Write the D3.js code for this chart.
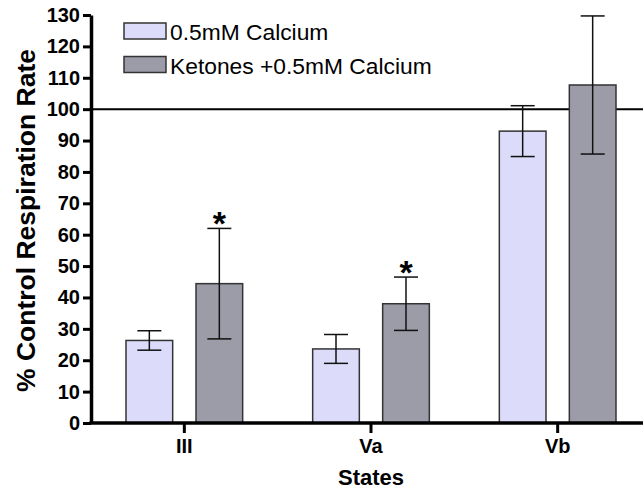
<!DOCTYPE html>
<html>
<head>
<meta charset="utf-8">
<script src="https://cdn.jsdelivr.net/npm/d3@7"></script>
<style>
  body { margin: 0; background: #fff; }
  text { font-family: "Liberation Sans", Arial, sans-serif; }
</style>
</head>
<body>
<div id="chart"></div>
<script>
var WIDTH = 643;
var HEIGHT = 493;

// data
var states = ["III", "Va", "Vb"];
var series = ["0.5mM Calcium", "Ketones +0.5mM Calcium"];
var calciumMean = [26.3, 23.6, 93.0];
var calciumErr = [3.1, 4.6, 8.1];
var ketoneMean = [44.4, 38.0, 107.7];
var ketoneErr = [17.6, 8.5, 22.0];
var ketoneStar = [true, true, false];
var yTicks = [0, 10, 20, 30, 40, 50, 60, 70, 80, 90, 100, 110, 120, 130];
var refValue = 100;

var colors = ["#dcdcfa", "#9c9ba8"];

var margin = { top: 15, right: -8, bottom: 70, left: 91 };

var svg = d3.select("#chart").append("svg")
  .attr("width", WIDTH)
  .attr("height", HEIGHT);

var x0 = d3.scaleBand()
  .domain(states)
  .range([margin.left, WIDTH - margin.right])
  .paddingInner(0)
  .paddingOuter(0);

var step = x0.bandwidth();
var x1 = d3.scaleBand()
  .domain(series)
  .range([step * 0.1875, step * 0.8125])
  .paddingInner(1 / 3);

var y = d3.scaleLinear()
  .domain([0, 130])
  .range([HEIGHT - margin.bottom, margin.top]);

var rows = states.map(function(s, i) {
  return [
    { state: s, key: series[0], mean: calciumMean[i], err: calciumErr[i], star: false, c: 0 },
    { state: s, key: series[1], mean: ketoneMean[i], err: ketoneErr[i], star: ketoneStar[i], c: 1 }
  ];
});
var bars = d3.merge(rows);

// reference line at 100%
svg.append("line")
  .attr("x1", margin.left)
  .attr("x2", WIDTH)
  .attr("y1", y(refValue))
  .attr("y2", y(refValue))
  .attr("stroke", "#000")
  .attr("stroke-width", 2);

var bar_g = svg.append("g");
bar_g.selectAll("rect")
  .data(bars)
  .enter()
  .append("rect")
  .attr("x", d => x0(d.state) + x1(d.key))
  .attr("y", d => y(d.mean))
  .attr("width", x1.bandwidth())
  .attr("height", d => y(0) - y(d.mean))
  .attr("fill", d => colors[d.c])
  .attr("stroke", "#333")
  .attr("stroke-width", 1.5);

// error bars
var err_g = svg.append("g").attr("stroke", "#111").attr("stroke-width", 1.5);
var capW = 12;
bars.forEach(function(d) {
  var cx = x0(d.state) + x1(d.key) + x1.bandwidth() / 2;
  err_g.append("line")
    .attr("x1", cx).attr("x2", cx)
    .attr("y1", y(d.mean + d.err)).attr("y2", y(d.mean - d.err));
  err_g.append("line")
    .attr("x1", cx - capW).attr("x2", cx + capW)
    .attr("y1", y(d.mean + d.err)).attr("y2", y(d.mean + d.err));
  err_g.append("line")
    .attr("x1", cx - capW).attr("x2", cx + capW)
    .attr("y1", y(d.mean - d.err)).attr("y2", y(d.mean - d.err));
});

// significance stars
svg.append("g").selectAll("text")
  .data(bars.filter(d => d.star))
  .enter()
  .append("text")
  .attr("x", d => x0(d.state) + x1(d.key) + x1.bandwidth() / 2)
  .attr("y", d => y(d.mean + d.err) + 7)
  .attr("text-anchor", "middle")
  .style("font-size", "34px")
  .style("font-weight", "bold")
  .text("*");

// axes
var yAxis = svg.append("g")
  .attr("transform", "translate(" + margin.left + ",0)")
  .call(d3.axisLeft(y).tickValues(yTicks).tickSize(8).tickSizeOuter(0).tickPadding(3));

var xAxis = svg.append("g")
  .attr("transform", "translate(0," + y(0) + ")")
  .call(d3.axisBottom(x0).tickSize(10).tickSizeOuter(0).tickPadding(6));

[yAxis, xAxis].forEach(function(a) {
  a.select(".domain").attr("stroke", "#000").attr("stroke-width", 3.5);
  a.selectAll(".tick line").attr("stroke", "#000").attr("stroke-width", 3);
  a.selectAll(".tick text")
    .attr("fill", "#000")
    .style("font-family", "'Liberation Sans', Arial, sans-serif")
    .style("font-size", "20px")
    .style("font-weight", "bold");
});
xAxis.select(".domain").attr("d", "M" + (margin.left - 1.5) + ",0H" + WIDTH);

// axis titles
svg.append("text")
  .attr("transform", "translate(35," + 220.5 + ") rotate(-90)")
  .attr("text-anchor", "middle")
  .style("font-size", "26.5px")
  .style("font-weight", "bold")
  .text("% Control Respiration Rate");

svg.append("text")
  .attr("x", (margin.left + WIDTH - margin.right) / 2)
  .attr("y", 485)
  .attr("text-anchor", "middle")
  .style("font-size", "22px")
  .style("font-weight", "bold")
  .text("States");

// legend
var legend = svg.append("g").attr("transform", "translate(124,23)");
series.forEach(function(s, i) {
  legend.append("rect")
    .attr("x", 0)
    .attr("y", i * 33.5)
    .attr("width", 42)
    .attr("height", 16)
    .attr("fill", colors[i])
    .attr("stroke", "#333")
    .attr("stroke-width", 1.5);
  legend.append("text")
    .attr("x", 46)
    .attr("y", i * 33.5 + 17)
    .style("font-size", "22.8px")
    .text(s);
});
</script>
</body>
</html>
